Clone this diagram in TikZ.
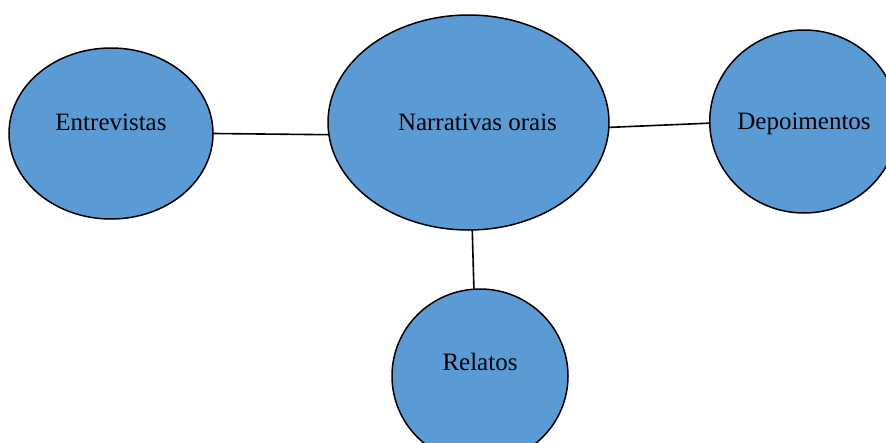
\documentclass[tikz,border=0pt]{standalone}
\usepackage{fontspec}
\setmainfont{Liberation Serif}
\usetikzlibrary{shapes.geometric}

\definecolor{bubblefill}{RGB}{91,155,213}

\begin{document}
\begin{tikzpicture}[
    x=1pt, y=-1pt,
    font=\fontsize{25pt}{29pt}\selectfont,
    bubble/.style={draw, ellipse, fill=bubblefill, line width=1.5pt, inner sep=0pt, outer sep=0pt, text height=16pt, text depth=0pt},
    link/.style={line width=1.6pt}
  ]
    \useasboundingbox (0,0) rectangle (886,442);
    \node[bubble, minimum width=281pt, minimum height=215pt] (narr) at (468.5,122.5) {\hspace*{18pt}Narrativas orais};
    \node[bubble, minimum width=204pt, minimum height=171pt, text depth=22pt] (ent) at (111,133.5) {Entrevistas};
    \node[bubble, minimum width=183pt, minimum height=183pt] (dep) at (804,121.5) {Depoimentos};
    \node[bubble, minimum width=176pt, minimum height=174pt, text depth=27pt] (rel) at (480,376) {Relatos};

    \draw[link] (ent.east) -- (narr.185);
    \draw[link] (narr.-2) -- (dep.181);
    \draw[link] (narr.-88) -- (rel.94);
  \end{tikzpicture}
\end{document}
